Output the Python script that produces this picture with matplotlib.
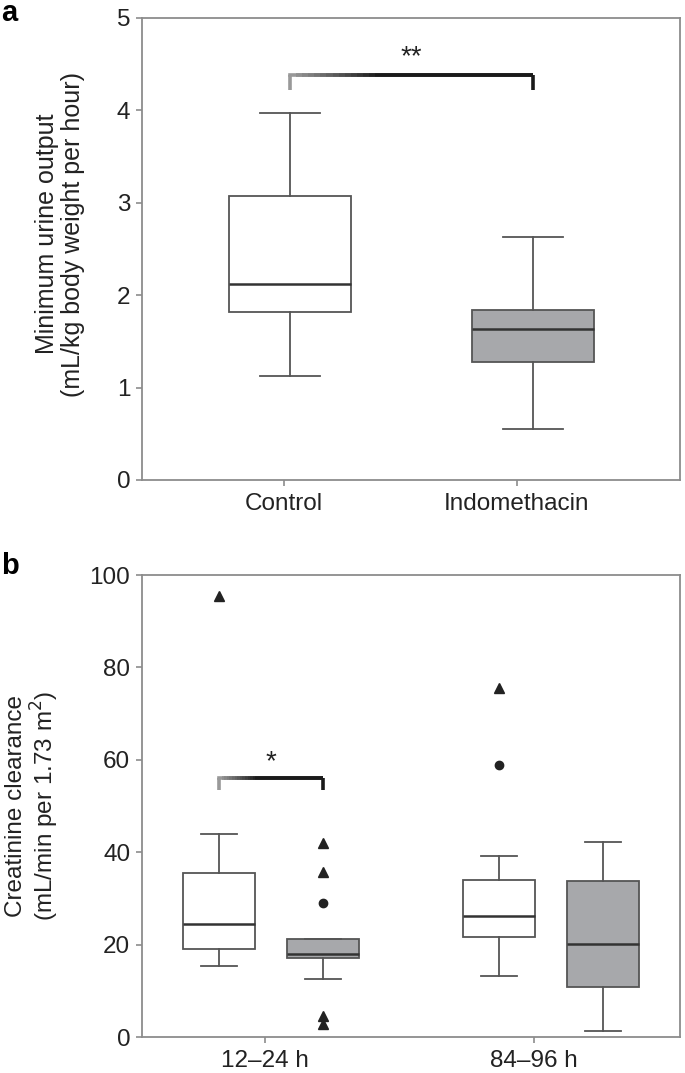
import numpy as np
import matplotlib
matplotlib.use("Agg")
import matplotlib.pyplot as plt

plt.rcParams['font.family'] = ['Liberation Sans', 'DejaVu Sans']

# Panel a: minimum urine output (box statistics)
groups_a = ["Control", "Indomethacin"]
a_whislo = [1.13, 0.55]
a_q1 = [1.82, 1.28]
a_med = [2.12, 1.63]
a_q3 = [3.07, 1.84]
a_whishi = [3.97, 2.63]

# Panel b: creatinine clearance, Control / Indomethacin at two time windows
times_b = ["12\u201324 h", "84\u201396 h"]
b_whislo = [15.4, 12.6, 13.2, 1.3]
b_q1 = [19.0, 17.1, 21.6, 10.8]
b_med = [24.5, 18.0, 26.2, 20.1]
b_q3 = [35.5, 21.2, 34.0, 33.8]
b_whishi = [43.9, 21.2, 39.2, 42.2]
b_triangles = [[95.4], [42.0, 35.7, 4.5, 2.8], [75.5], []]
b_circles = [[], [29.0], [58.9], []]

fills = ["white", "#a7a8ab", "white", "#a7a8ab"]
edge = "#555555"
spine_col = "#8c8c8c"
text_col = "#222222"


def make_stats(lo, q1, med, q3, hi):
    return [dict(whislo=lo[i], q1=q1[i], med=med[i], q3=q3[i], whishi=hi[i], fliers=[])
            for i in range(len(lo))]


def style_axes(ax):
    for s in ax.spines.values():
        s.set_color(spine_col)
        s.set_linewidth(1.3)
    ax.tick_params(axis='both', direction='out', length=4, width=1.2, color=spine_col,
                   labelsize=17.5, labelcolor=text_col)
    ax.tick_params(axis='x', pad=5.5)
    ax.tick_params(axis='y', pad=4.5)


def bracket(ax, x0, x1, y, drop, star, star_y, star_size):
    # gray-to-black gradient bracket like the original figure
    n = 40
    xs = np.linspace(x0, x1, n + 1)
    step = xs[1] - xs[0]
    ax.plot([x0, x0], [y, y - drop], color=(0.6, 0.6, 0.6), lw=2.6, solid_capstyle='butt')
    for i in range(n):
        f = min(1.0, i / (0.35 * n))
        g = 0.6 * (1 - f) + 0.1 * f
        x_end = min(x1, xs[i + 1] + step)
        ax.plot([xs[i], x_end], [y, y], color=(g, g, g), lw=2.6,
                solid_capstyle='projecting' if i == 0 else 'butt')
    ax.plot([x1, x1], [y, y - drop], color=(0.1, 0.1, 0.1), lw=2.6, solid_capstyle='butt')
    ax.text((x0 + x1) / 2, star_y, star, ha='center', va='center', fontsize=star_size,
            color=text_col)


fig = plt.figure(figsize=(6.85, 10.73), dpi=100)
ax_a = fig.add_axes([142 / 685, 1 - 480 / 1073, 538 / 685, 462 / 1073])
ax_b = fig.add_axes([142 / 685, 1 - 1037 / 1073, 538 / 685, 462 / 1073])

box_kw = dict(patch_artist=True, showfliers=False,
              boxprops=dict(edgecolor=edge, linewidth=1.3),
              whiskerprops=dict(color=edge, linewidth=1.3),
              capprops=dict(color=edge, linewidth=1.3),
              medianprops=dict(color="#333333", linewidth=1.8))

# ---- panel a ----
pos_a = [1, 2]
bp = ax_a.bxp(make_stats(a_whislo, a_q1, a_med, a_q3, a_whishi), positions=pos_a,
              widths=0.5, capwidths=0.25, **box_kw)
for patch, c in zip(bp['boxes'], fills[:2]):
    patch.set_facecolor(c)
ax_a.set_xlim(0.391, 2.605)
ax_a.set_ylim(0, 5)
ax_a.set_yticks([0, 1, 2, 3, 4, 5])
ax_a.set_xticks([0.975, 1.934])
ax_a.set_xticklabels(groups_a)
style_axes(ax_a)
ax_a.set_ylabel("Minimum urine output\n(mL/kg body weight per hour)", fontsize=18,
                color=text_col, linespacing=1.1)
ax_a.yaxis.set_label_coords(-0.106, 0.532)
bracket(ax_a, 1, 2, 4.38, 0.16, "**", 4.58, 20)

# ---- panel b ----
pos_b = [1, 2, 3.69, 4.69]
bp = ax_b.bxp(make_stats(b_whislo, b_q1, b_med, b_q3, b_whishi), positions=pos_b,
              widths=0.70, capwidths=0.35, **box_kw)
for patch, c in zip(bp['boxes'], fills):
    patch.set_facecolor(c)
for p, tri, cir in zip(pos_b, b_triangles, b_circles):
    if tri:
        ax_b.plot([p] * len(tri), tri, linestyle='none', marker='^', markersize=7,
                  color="#222222", zorder=5)
    if cir:
        ax_b.plot([p] * len(cir), cir, linestyle='none', marker='o', markersize=6,
                  color="#222222", zorder=5)
ax_b.set_xlim(0.26, 5.43)
ax_b.set_ylim(0, 100)
ax_b.set_yticks([0, 20, 40, 60, 80, 100])
ax_b.set_xticks([1.44, 4.03])
ax_b.set_xticklabels(times_b)
style_axes(ax_b)
ax_b.set_ylabel("Creatinine clearance\n(mL/min per 1.73 m$^2$)", fontsize=17.5,
                color=text_col, linespacing=1.1)
ax_b.yaxis.set_label_coords(-0.150, 0.5)
bracket(ax_b, 1, 2, 56.1, 2.6, "*", 59.5, 20)

fig.text(1 / 685, 1 - 21 / 1073, "a", fontsize=21, fontweight='bold', va='baseline', ha='left')
fig.text(1 / 685, 1 - 574 / 1073, "b", fontsize=21, fontweight='bold', va='baseline', ha='left')

fig.savefig("out.png", dpi=100)
